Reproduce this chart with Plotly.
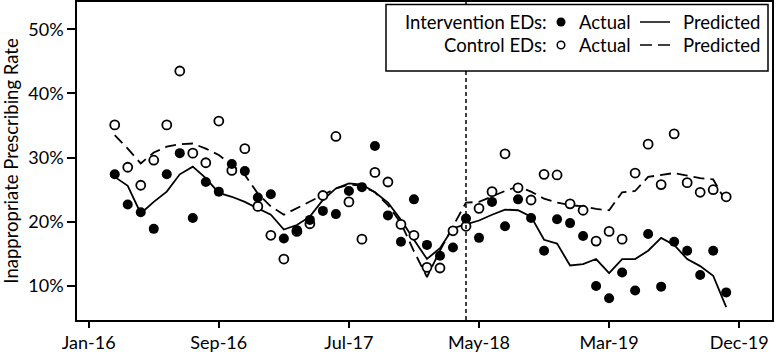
import plotly.graph_objects as go

# ---------------- data ----------------
months = list(range(48))  # monthly index, first observation = 0

tick_pos = [-2, 8, 18, 28, 38, 48]
tick_labels = ["Jan-16", "Sep-16", "Jul-17", "May-18", "Mar-19", "Dec-19"]

y_tick_vals = [10, 20, 30, 40, 50]
y_tick_labels = ["10%", "20%", "30%", "40%", "50%"]

intervention_month = 27

intervention_actual = [
    27.4, 22.7, 21.5, 18.9, 27.4, 30.7, 20.6, 26.2, 24.7, 29.0,
    27.9, 23.8, 24.3, 17.4, 18.7, 20.3, 21.7, 21.2, 24.8, 25.4,
    31.8, 21.0, 16.9, 23.5, 16.4, 14.7, 16.0, 20.5, 17.5, 23.1,
    19.3, 23.5, 20.6, 15.5, 20.4, 19.8, 17.8, 10.0, 8.1, 12.1,
    9.3, 18.1, 9.9, 16.9, 15.5, 11.7, 15.5, 9.0,
]
control_actual = [
    35.1, 28.5, 25.7, 29.6, 35.1, 43.5, 30.7, 29.2, 35.7, 28.0,
    31.4, 22.4, 17.9, 14.2, 18.5, 19.7, 24.1, 33.3, 23.1, 17.3,
    27.7, 26.2, 19.6, 17.9, 12.9, 12.8, 18.6, 19.3, 22.1, 24.7,
    30.6, 25.3, 23.4, 27.4, 27.3, 22.8, 21.8, 17.0, 18.5, 17.3,
    27.6, 32.1, 25.8, 33.7, 26.1, 24.6, 25.0, 23.9,
]
intervention_pred = [
    27.0, 25.6, 21.3, 23.1, 24.7, 27.4, 28.6, 26.8, 24.5, 23.9,
    23.1, 22.1, 21.1, 18.8, 19.5, 20.8, 23.4, 25.2, 26.0, 25.8,
    24.6, 23.0, 20.3, 17.2, 14.2, 15.9, 19.0, 19.6, 20.2, 21.1,
    21.9, 21.8, 20.8, 17.2, 16.6, 13.2, 13.4, 14.2, 12.0, 14.2,
    14.2, 15.5, 17.5, 16.4, 14.2, 13.1, 11.6, 6.7,
]
control_pred = [
    33.5, 31.4, 29.1, 30.8, 31.7, 32.1, 32.2, 31.4, 30.4, 28.9,
    27.3, 24.4, 22.4, 21.1, 22.1, 23.1, 24.2, 25.2, 25.8, 25.6,
    24.6, 22.6, 19.8, 15.4, 11.4, 15.5, 19.3, 23.0, 23.1, 24.0,
    24.8, 25.5, 24.7, 23.6, 23.0, 22.6, 22.4, 22.0, 21.8, 24.6,
    24.8, 27.0, 27.3, 27.6, 27.2, 26.8, 26.6, 23.1,
]

FONT = "Lato, 'Open Sans', sans-serif"
LEG_SIZE = 18.5

fig = go.Figure()

fig.add_trace(go.Scatter(x=months, y=control_pred, mode="lines",
                         line=dict(color="black", width=1.8, dash="11px,6px"),
                         showlegend=False, hoverinfo="skip"))
fig.add_trace(go.Scatter(x=months, y=intervention_pred, mode="lines",
                         line=dict(color="black", width=1.8),
                         showlegend=False, hoverinfo="skip"))
fig.add_trace(go.Scatter(x=months, y=control_actual, mode="markers",
                         marker=dict(symbol="circle", size=9, color="white",
                                     line=dict(color="black", width=1.8)),
                         showlegend=False))
fig.add_trace(go.Scatter(x=months, y=intervention_actual, mode="markers",
                         marker=dict(symbol="circle", size=10, color="black",
                                     line=dict(width=0)),
                         showlegend=False))

fig.add_vline(x=intervention_month, line=dict(color="black", width=1.5, dash="4px,3px"))

# ---------------- custom legend box ----------------
W_PLOT, H_PLOT, L0, B0 = 695.0, 318.0, 77.0, 320.0

def px(x):
    return (x - L0) / W_PLOT

def py(y):
    return (B0 - y) / H_PLOT

fig.add_shape(type="rect", xref="paper", yref="paper",
              x0=px(386), x1=px(768), y0=py(71), y1=py(4.5),
              line=dict(color="black", width=1.5), fillcolor="white", layer="above")

rows = [(22, "Intervention EDs:", "solid", True), (45, "Control EDs:", "dash", False)]
for ypix, label, dash, filled in rows:
    fig.add_annotation(xref="paper", yref="paper", x=px(549), y=py(ypix),
                       text=label, showarrow=False, xanchor="right", yanchor="middle",
                       font=dict(size=LEG_SIZE, color="black", family=FONT))
    r = 4.5 if filled else 3.8
    fig.add_shape(type="circle", xref="paper", yref="paper",
                  x0=px(561 - r), x1=px(561 + r), y0=py(ypix + r), y1=py(ypix - r),
                  line=dict(color="black", width=0 if filled else 1.5),
                  fillcolor="black" if filled else "white", layer="above")
    fig.add_annotation(xref="paper", yref="paper", x=px(577), y=py(ypix),
                       text="Actual", showarrow=False, xanchor="left", yanchor="middle",
                       font=dict(size=LEG_SIZE, color="black", family=FONT))
    fig.add_shape(type="line", xref="paper", yref="paper",
                  x0=px(640), x1=px(670), y0=py(ypix), y1=py(ypix),
                  line=dict(color="black", width=1.5,
                            dash="solid" if dash == "solid" else "12px,6px"),
                  layer="above")
    fig.add_annotation(xref="paper", yref="paper", x=px(762), y=py(ypix),
                       text="Predicted", showarrow=False, xanchor="right", yanchor="middle",
                       font=dict(size=LEG_SIZE, color="black", family=FONT))

fig.update_layout(
    width=776, height=354,
    margin=dict(l=77, r=4, t=2, b=34),
    paper_bgcolor="white", plot_bgcolor="white",
    font=dict(family=FONT, size=18, color="black"),
    showlegend=False,
    xaxis=dict(range=[-2.9, 50.52], tickmode="array", tickvals=tick_pos, ticktext=tick_labels,
               ticks="outside", ticklen=6, tickwidth=1.5, tickcolor="black",
               showline=True, linecolor="black", linewidth=1.5, mirror=True,
               showgrid=False, zeroline=False, tickfont=dict(size=18), automargin=False),
    yaxis=dict(range=[4.70, 54.25], tickmode="array", tickvals=y_tick_vals, ticktext=y_tick_labels,
               ticks="outside", ticklen=8, tickwidth=1.5, tickcolor="black",
               showline=True, linecolor="black", linewidth=1.5, mirror=True,
               showgrid=False, zeroline=False, tickfont=dict(size=18), automargin=False,
               title=dict(text="Inappropriate Prescribing Rate", font=dict(size=18.5), standoff=6)),
)

fig.write_html("out.html", config={"displayModeBar": False},
               post_script="document.body.style.margin='0';document.body.style.overflow='hidden';")
